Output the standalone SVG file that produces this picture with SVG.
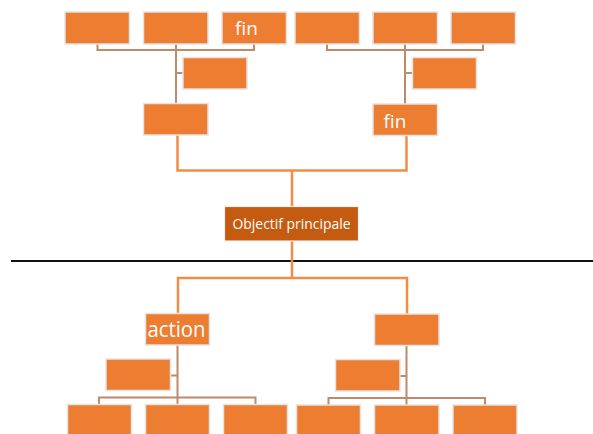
<svg xmlns="http://www.w3.org/2000/svg" width="593" height="434" viewBox="0 0 593 434">
  <style>
    .box { fill: #ED7D31; stroke: #E4E4E4; stroke-width: 1.5; }
    .main { fill: #C55A11; stroke: #EFEFEF; stroke-width: 1.2; }
    .sub { fill: none; stroke: #BD8A6B; stroke-width: 2; }
    .trunk { fill: none; stroke: #F28C45; stroke-width: 2.5; }
    .lbl { font-family: "Open Sans", "Liberation Sans", sans-serif; fill: #FFFFFF; }
  </style>
  <rect width="593" height="434" fill="#FFFFFF"/>

  <!-- separator -->
  <line x1="11" y1="261" x2="593" y2="261" stroke="#111111" stroke-width="2.2"/>

  <!-- connectors -->
  <g id="connectors">
    <!-- top-left subtree -->
    <path class="sub" d="M97.5 44 V50 H254 V44 M176 44 V104 M176 73 H183"/>
    <!-- top-right subtree -->
    <path class="sub" d="M327 44 V50 H483 V44 M405 44 V104 M405 73 H412"/>
    <!-- main trunk -->
    <path class="trunk" d="M177.5 135 V170.5 H406.5 V135 M292 170.5 V207 M292 241 V278 H178 V314 M292 278 H407 V314"/>
    <!-- bottom-left subtree -->
    <path class="sub" d="M177.5 345 V405 M177.5 375.5 H171 M99 405 V397.5 H255.5 V405"/>
    <!-- bottom-right subtree -->
    <path class="sub" d="M406.5 345 V405 M406.5 376 H400 M328.5 405 V398 H485 V405"/>
  </g>

  <!-- top-left subtree -->
  <g id="tl-leaf-1"><rect class="box" x="65" y="12" width="64.5" height="32"/></g>
  <g id="tl-leaf-2"><rect class="box" x="143.5" y="12" width="64.5" height="32"/></g>
  <g id="tl-leaf-3"><rect class="box" x="222" y="12" width="64.5" height="32"/>
    <text class="lbl" x="235" y="35" font-size="19">fin</text></g>
  <g id="tl-assistant"><rect class="box" x="183" y="57.5" width="64" height="31.5"/></g>
  <g id="tl-mid"><rect class="box" x="143.5" y="103.5" width="64.5" height="31.5"/></g>

  <!-- top-right subtree -->
  <g id="tr-leaf-1"><rect class="box" x="295" y="12" width="64.5" height="32"/></g>
  <g id="tr-leaf-2"><rect class="box" x="373" y="12" width="64.5" height="32"/></g>
  <g id="tr-leaf-3"><rect class="box" x="451" y="12" width="64.5" height="32"/></g>
  <g id="tr-assistant"><rect class="box" x="412.5" y="57.5" width="64" height="31.5"/></g>
  <g id="tr-mid"><rect class="box" x="373" y="104" width="64.5" height="31.5"/>
    <text class="lbl" x="383.5" y="127.5" font-size="19">fin</text></g>

  <!-- root -->
  <g id="root"><rect class="main" x="224.5" y="206.5" width="134" height="34.5"/>
    <text class="lbl" x="291.5" y="229" font-size="15" text-anchor="middle" textLength="118" lengthAdjust="spacingAndGlyphs">Objectif principale</text></g>

  <!-- bottom-left subtree -->
  <g id="bl-mid"><rect class="box" x="145.5" y="313.5" width="64" height="31.5"/>
    <text class="lbl" x="176.5" y="336.5" font-size="22" text-anchor="middle" textLength="58" lengthAdjust="spacingAndGlyphs">action</text></g>
  <g id="bl-assistant"><rect class="box" x="106" y="359" width="64.5" height="31.5"/></g>
  <g id="bl-leaf-1"><rect class="box" x="67.5" y="404.5" width="64" height="34"/></g>
  <g id="bl-leaf-2"><rect class="box" x="145.5" y="404.5" width="64" height="34"/></g>
  <g id="bl-leaf-3"><rect class="box" x="223.5" y="404.5" width="64" height="34"/></g>

  <!-- bottom-right subtree -->
  <g id="br-mid"><rect class="box" x="374.5" y="314" width="64.5" height="31.5"/></g>
  <g id="br-assistant"><rect class="box" x="335.5" y="359.5" width="64.5" height="31.5"/></g>
  <g id="br-leaf-1"><rect class="box" x="296.5" y="405" width="64" height="34"/></g>
  <g id="br-leaf-2"><rect class="box" x="374.5" y="405" width="64.5" height="34"/></g>
  <g id="br-leaf-3"><rect class="box" x="453" y="405" width="64" height="34"/></g>
</svg>
